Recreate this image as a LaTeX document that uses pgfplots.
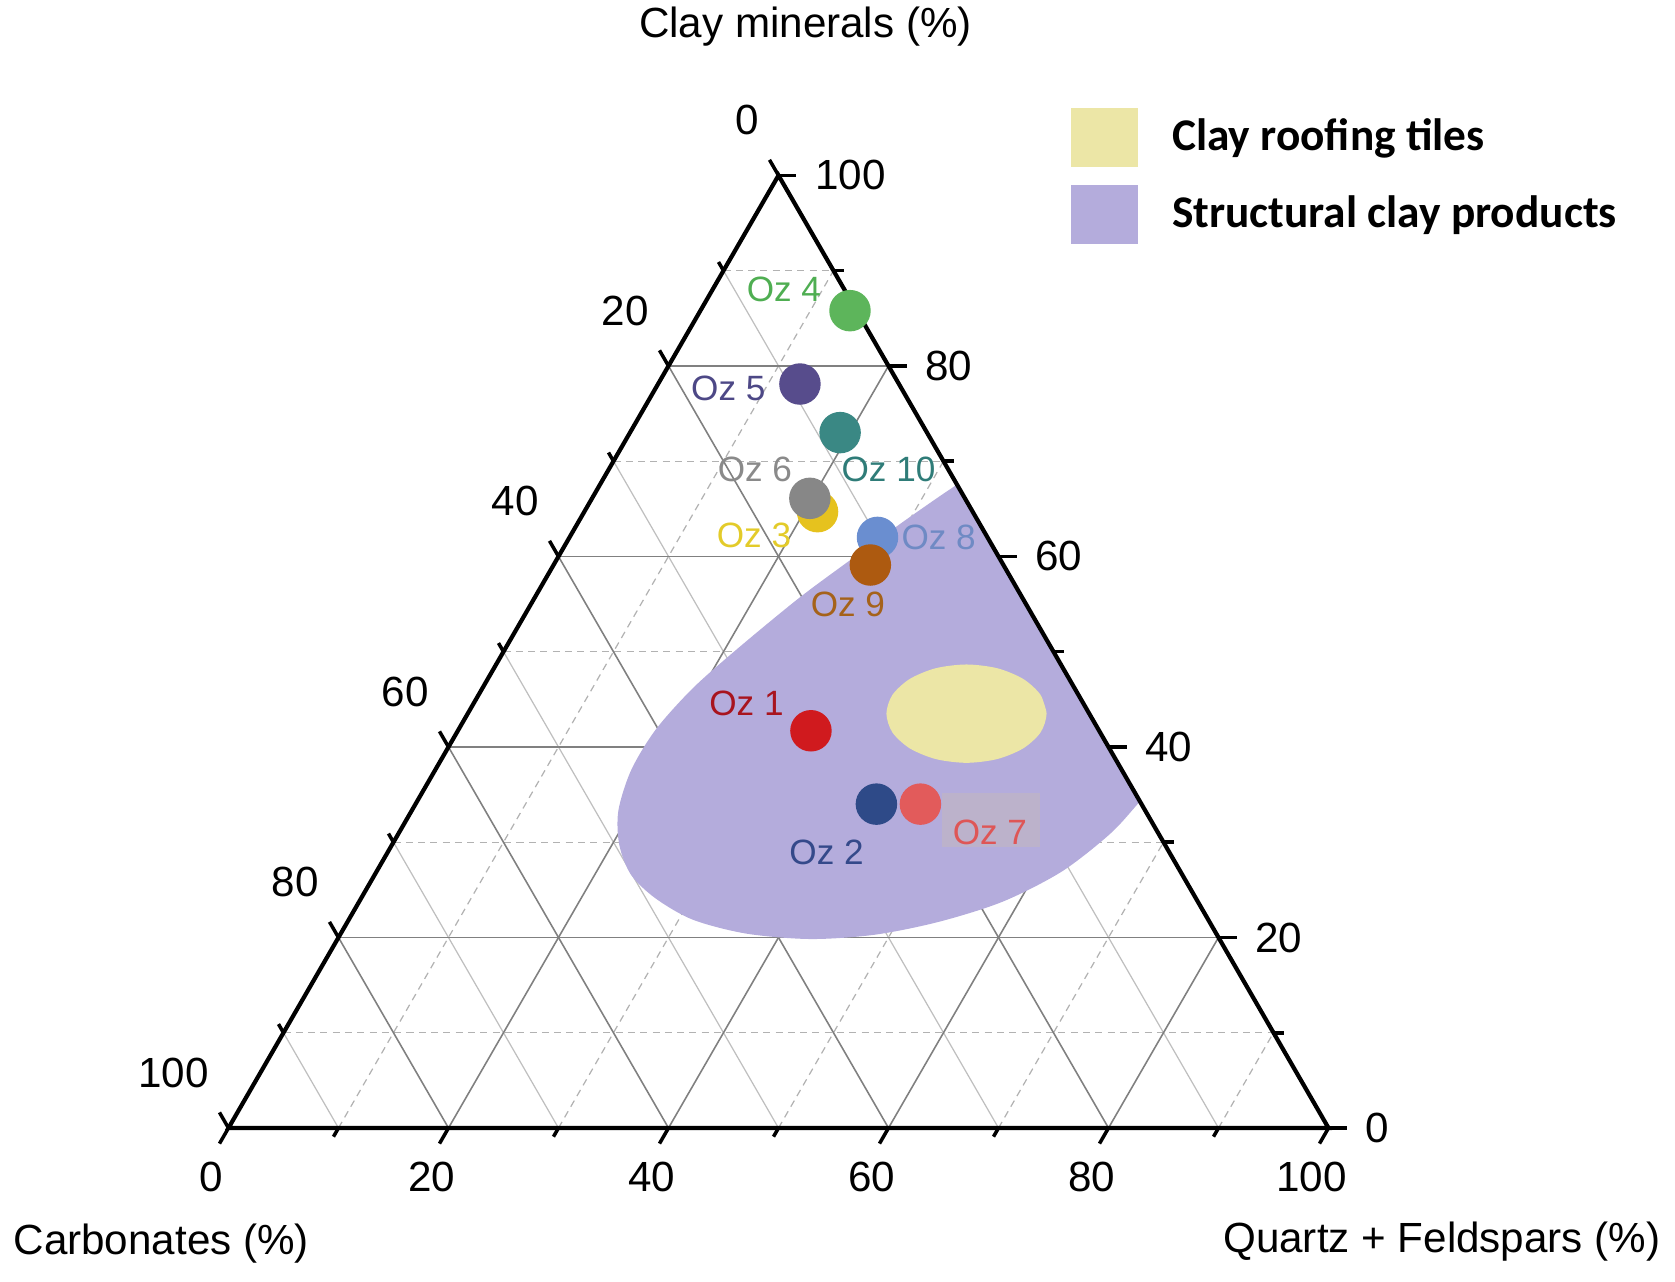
\documentclass[border=0pt]{standalone}
\usepackage{fontspec}
\setmainfont{Liberation Sans}
\newfontfamily\calibri{Carlito}
\usepackage{pgfplots}
\usepackage{pgfplotstable}
\pgfplotsset{compat=1.18}
\usetikzlibrary{calc}

\definecolor{blob}{HTML}{B4ACDC}
\definecolor{tile}{HTML}{ECE6A6}
\definecolor{ozbg}{HTML}{BCB2CB}
\definecolor{c1}{HTML}{D01A1E}\definecolor{t1}{HTML}{A8141E}
\definecolor{c2}{HTML}{2E4A88}\definecolor{t2}{HTML}{34498A}
\definecolor{c3}{HTML}{E6C21E}\definecolor{t3}{HTML}{E3CB2A}
\definecolor{c4}{HTML}{5DB55B}\definecolor{t4}{HTML}{4FAE52}
\definecolor{c5}{HTML}{574C8C}\definecolor{t5}{HTML}{4D4886}
\definecolor{c6}{HTML}{878787}\definecolor{t6}{HTML}{8A8A8A}
\definecolor{c7}{HTML}{E25B5B}\definecolor{t7}{HTML}{DE5656}
\definecolor{c8}{HTML}{6A8ED0}\definecolor{t8}{HTML}{6F8AC4}
\definecolor{c9}{HTML}{AD5A10}\definecolor{t9}{HTML}{A5621A}
\definecolor{c10}{HTML}{3A8884}\definecolor{t10}{HTML}{2F7C78}

\newcommand\ozfont{\fontsize{10}{12}\selectfont}
\newcommand\labfont{\fontsize{12}{14}\selectfont}

% samples: C = clay minerals, Q = quartz + feldspars (carbonates = rest)
\pgfplotstableread{
id   C    Q
Oz4  85.8 13.6
Oz5  78.1 12.9
Oz10 73.0 19.1
Oz3  64.7 21.2
Oz6  66.1 19.8
Oz8  62.0 28.0
Oz9  59.1 28.8
Oz1  41.7 32.1
Oz2  34.0 41.9
Oz7  34.0 45.9
}\pointdata

\begin{document}
\begin{tikzpicture}[
    majgrid/.style={draw=black!50, line width=0.45pt},
    mingrid/.style={draw=black!25, line width=0.35pt},
    mindash/.style={draw=black!30, line width=0.35pt, dash pattern=on 2pt off 1.5pt},
    tk/.style={line width=1pt},
    lab/.style={font=\labfont, inner sep=0pt},
]
\begin{axis}[
    scale only axis,
    width=16.75cm, height=12.81cm,
    xmin=-20.77, xmax=131.5,
    ymin=-13.91, ymax=102.55,
    hide axis, clip=false,
    legend image code/.code={\fill[#1] (0cm,-0.29cm) rectangle (0.66cm,0.29cm);},
    legend style={at={(0.6388,0.9166)}, anchor=north west, draw=none, fill=none,
        inner sep=0pt, row sep=0.18cm, column sep=0.34cm,
        nodes={inner sep=0pt},
        font=\calibri\bfseries\fontsize{12.9}{15}\selectfont},
    legend cell align=left,
]
\path (rel axis cs:0,0) rectangle (rel axis cs:1,1);
\coordinate (L) at (axis cs:0,0);
\coordinate (R) at (axis cs:100,0);
\coordinate (T) at (axis cs:50,86.60254);

% grid
\pgfplotsinvokeforeach{10,30,50,70,90}{
  \draw[mindash] ($(L)!#1/100!(T)$) -- ($(R)!#1/100!(T)$);
  \draw[mindash] ($(L)!#1/100!(R)$) -- ($(T)!#1/100!(R)$);
  \draw[mingrid] ($(R)!#1/100!(L)$) -- ($(T)!#1/100!(L)$);
}
\pgfplotsinvokeforeach{20,40,60,80}{
  \draw[majgrid] ($(L)!#1/100!(T)$) -- ($(R)!#1/100!(T)$);
  \draw[majgrid] ($(L)!#1/100!(R)$) -- ($(T)!#1/100!(R)$);
  \draw[majgrid] ($(R)!#1/100!(L)$) -- ($(T)!#1/100!(L)$);
}

% structural clay products field
\addplot[fill=blob, draw=none, smooth, forget plot] coordinates {
  (65.73,58.16) (61.65,55.34) (56.41,51.55) (51.84,48.16) (46.41,43.69)
  (42.23,40.00) (38.83,36.21) (36.60,32.52) (35.44,28.83) (35.53,25.73)
  (36.60,23.01) (38.83,20.87) (42.23,18.93) (47.09,17.67) (52.91,17.18)
  (58.74,17.57) (64.56,18.74) (70.39,20.58) (75.73,23.30) (80.10,26.70)
  (82.62,29.42) (85.5,32.8) (88,39) (87,48) (80,58) (71,61.5)
  (65.73,58.16) (61.65,55.34)
};
\addplot[fill=ozbg, draw=none, forget plot] coordinates {
  (64.9,25.55) (73.8,25.55) (73.8,30.45) (64.9,30.45)
};
% clay roofing tiles field
\addplot[fill=tile, draw=none, smooth, forget plot] coordinates {
  (74.37,37.67) (73.82,39.38) (72.24,40.83) (69.88,41.80) (67.09,42.14)
  (64.30,41.80) (61.94,40.83) (60.36,39.38) (59.81,37.67) (60.36,35.96)
  (61.94,34.51) (64.30,33.54) (67.09,33.20) (69.88,33.54) (72.24,34.51)
  (73.82,35.96) (74.37,37.67) (73.82,39.38)
};
% keep the field inside the triangle
\addplot[fill=white, draw=none, forget plot] coordinates {
  (91.34,15) (59.59,70) (115,70) (115,15)
};

% samples
\addplot[scatter, only marks, mark=*, mark size=5.7pt, forget plot,
    scatter src=explicit symbolic,
    scatter/classes={
      Oz1={draw=c1, fill=c1}, Oz2={draw=c2, fill=c2}, Oz3={draw=c3, fill=c3},
      Oz4={draw=c4, fill=c4}, Oz5={draw=c5, fill=c5}, Oz6={draw=c6, fill=c6},
      Oz7={draw=c7, fill=c7}, Oz8={draw=c8, fill=c8}, Oz9={draw=c9, fill=c9},
      Oz10={draw=c10, fill=c10}}]
  table[x expr={\thisrow{Q}+0.5*\thisrow{C}}, y expr={0.8660254*\thisrow{C}}, meta=id] {\pointdata};

% frame and ticks
\draw[line width=1.2pt, line join=miter] (L) -- (R) -- (T) -- cycle;
\pgfplotsinvokeforeach{10,30,50,70,90}{
  \draw[tk] ($(T)!#1/100!(L)$) -- ++(120:0.1cm);
  \draw[tk] ($(L)!#1/100!(R)$) -- ++(240:0.1cm);
  \draw[tk] ($(R)!#1/100!(T)$) -- ++(0:0.1cm);
}
\pgfplotsinvokeforeach{0,20,40,60,80,100}{
  \draw[tk] ($(T)!#1/100!(L)$) -- ++(120:0.18cm);
  \draw[tk] ($(L)!#1/100!(R)$) -- ++(240:0.18cm);
  \draw[tk] ($(R)!#1/100!(T)$) -- ++(0:0.18cm);
  \node[lab, anchor=east] at ($(T)!#1/100!(L)+(-0.19cm,0.55cm)$) {#1};
  \node[lab] at ($(L)!#1/100!(R)+(-0.17cm,-0.49cm)$) {#1};
  \node[lab, anchor=west] at ($(R)!#1/100!(T)+(0.36cm,0cm)$) {#1};
}

% sample labels
\node[font=\ozfont, text=t4]  at (axis cs:50.49,76.21) {Oz 4};
\node[font=\ozfont, text=t5]  at (axis cs:45.44,67.28) {Oz 5};
\node[font=\ozfont, text=t10] at (axis cs:60.00,59.90) {Oz 10};
\node[font=\ozfont, text=t6]  at (axis cs:47.86,59.90) {Oz 6};
\node[font=\ozfont, text=t3]  at (axis cs:47.77,53.88) {Oz 3};
\node[font=\ozfont, text=t8]  at (axis cs:64.56,53.69) {Oz 8};
\node[font=\ozfont, text=t9]  at (axis cs:56.31,47.57) {Oz 9};
\node[font=\ozfont, text=t1]  at (axis cs:47.09,38.64) {Oz 1};
\node[font=\ozfont, text=t2]  at (axis cs:54.37,25.05) {Oz 2};
\node[font=\ozfont, text=t7]  at (axis cs:69.22,26.89) {Oz 7};

% axis titles
\node[lab] at (axis cs:52.45,100.1) {Clay minerals (\%)};
\node[lab] at (axis cs:-6.11,-10.49) {Carbonates (\%)};
\node[lab] at (axis cs:110.3,-10.3) {Quartz + Feldspars (\%)};

\addlegendimage{tile}
\addlegendentry{Clay roofing tiles}
\addlegendimage{blob}
\addlegendentry{Structural clay products}
\end{axis}
\end{tikzpicture}
\end{document}
